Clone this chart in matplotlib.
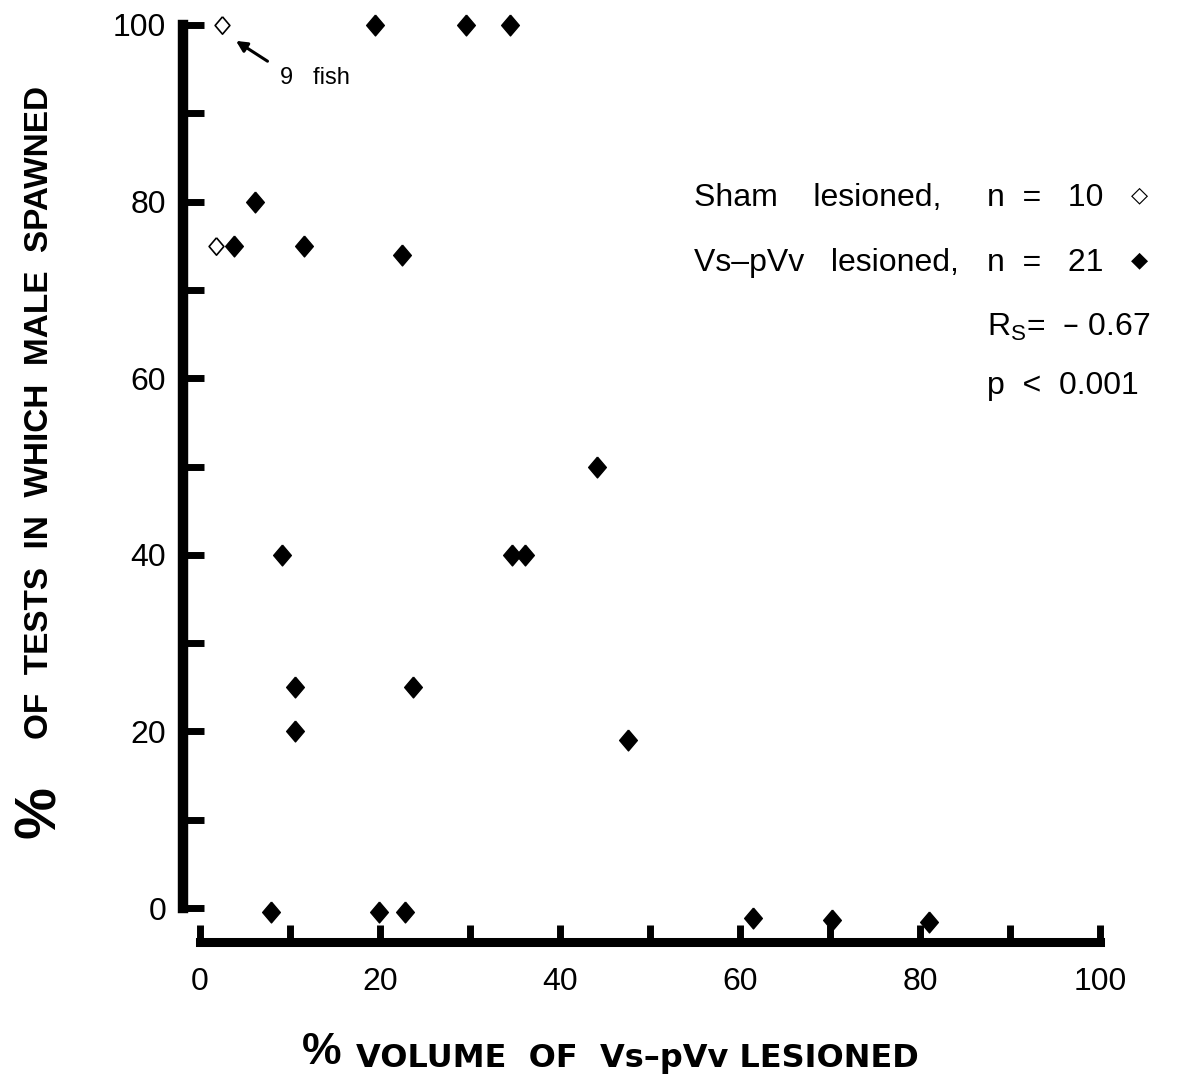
import matplotlib
matplotlib.use("Agg")
import matplotlib.pyplot as plt

plt.rcParams['font.family'] = ['Liberation Sans', 'DejaVu Sans']

# sham lesioned (open diamonds); the point at 100 stands for 9 fish
sham_x = [2.4, 1.8]
sham_y = [100, 75]

# Vs-pVv lesioned (filled diamonds)
lesion_x = [19.4, 29.5, 34.4, 6.1, 3.8, 11.6, 22.4, 44.1, 34.7, 36.1, 9.1,
            10.6, 23.7, 10.6, 47.6, 7.9, 19.9, 22.8, 61.4, 70.2, 81.0]
lesion_y = [100, 100, 100, 80, 75, 75, 74, 50, 40, 40, 40,
            25, 25, 20, 19, -0.4, -0.4, -0.4, -1.1, -1.4, -1.6]

x_major = [0, 20, 40, 60, 80, 100]
x_minor = [10, 30, 50, 70, 90]
y_major = [0, 20, 40, 60, 80, 100]
y_minor = [10, 30, 50, 70, 90]

W, H = 1177, 1087
fig = plt.figure(figsize=(W / 100, H / 100), dpi=100)

xlo, xhi = -1.9, 100.5
ylo, yhi = -3.85, 101
px_x, px_y = 9.0, 8.83
left = 200 + xlo * px_x
right = 200 + xhi * px_x
bottom = 908 - ylo * px_y
top = 908 - yhi * px_y
ax = fig.add_axes([left / W, 1 - bottom / H, (right - left) / W, (bottom - top) / H])

ax.set_xlim(xlo, xhi)
ax.set_ylim(ylo, yhi)

# diamond a little taller than wide, like the printed symbols
diamond = [(0, 1), (0.85, 0), (0, -1), (-0.85, 0), (0, 1)]
ax.plot(lesion_x, lesion_y, linestyle='none', marker=diamond, ms=15,
        color='black', clip_on=False)
ax.plot(sham_x, sham_y, linestyle='none', marker=diamond, ms=12.5, mfc='white',
        mec='black', mew=1.2, clip_on=False)

ax.annotate('', xy=(4.0, 98.2), xytext=(7.5, 95.9),
            arrowprops=dict(arrowstyle='-|>', color='black', lw=2.2,
                            mutation_scale=16, shrinkA=0, shrinkB=0))
ax.text(8.9, 94.0, '9   fish', fontsize=17, ha='left', va='center')

for s in ['top', 'right']:
    ax.spines[s].set_visible(False)
ax.spines['left'].set_linewidth(7.5)
ax.spines['left'].set_bounds(0, 100)
ax.spines['bottom'].set_linewidth(6.5)
ax.spines['bottom'].set_bounds(0, 100)

ax.set_xticks(x_major)
ax.set_xticks(x_minor, minor=True)
ax.set_yticks(y_major)
ax.set_yticks(y_minor, minor=True)
ax.set_xticklabels([str(v) for v in x_major])
ax.set_yticklabels([str(v) for v in y_major])
ax.tick_params(axis='x', which='both', direction='in', length=12, width=5,
               labelsize=23, pad=18)
ax.tick_params(axis='y', which='both', direction='in', length=15, width=5,
               labelsize=23, pad=12)

# legend-like block of text
fs = 23
ax.text(0.555, 0.795, 'Sham    lesioned,', transform=ax.transAxes, fontsize=fs,
        ha='left', va='baseline')
ax.text(0.872, 0.795, 'n  =   10', transform=ax.transAxes, fontsize=fs,
        ha='left', va='baseline')
ax.text(0.555, 0.725, 'Vs\u2013pVv   lesioned,', transform=ax.transAxes, fontsize=fs,
        ha='left', va='baseline')
ax.text(0.872, 0.725, 'n  =   21', transform=ax.transAxes, fontsize=fs,
        ha='left', va='baseline')
ax.text(1.038, 0.8, '\u25c7', transform=ax.transAxes, fontsize=16,
        ha='center', va='baseline')
ax.text(1.038, 0.73, '\u25c6', transform=ax.transAxes, fontsize=16,
        ha='center', va='baseline')
ax.text(0.872, 0.655, 'R$_\\mathregular{S}$=  \u2013 0.67',
        transform=ax.transAxes, fontsize=fs, ha='left', va='baseline')
ax.text(0.872, 0.592, 'p  <  0.001', transform=ax.transAxes, fontsize=fs,
        ha='left', va='baseline')

# axis titles
fig.text(40 / W, 1 - 812 / H, '%', fontsize=42, fontweight='bold', rotation=90,
         ha='center', va='center')
fig.text(40 / W, 1 - 412 / H, 'OF  TESTS  IN  WHICH  MALE  SPAWNED', fontsize=24,
         fontweight='bold', rotation=90, ha='center', va='center')
fig.text(322 / W, 1 - 1053 / H, '%', fontsize=32, fontweight='bold',
         ha='center', va='center')
fig.text(356 / W, 1 - 1058 / H, 'VOLUME  OF  Vs\u2013pVv LESIONED',
         fontsize=23, fontweight='bold', family='DejaVu Sans',
         ha='left', va='center')

fig.savefig('out.png', dpi=100)
